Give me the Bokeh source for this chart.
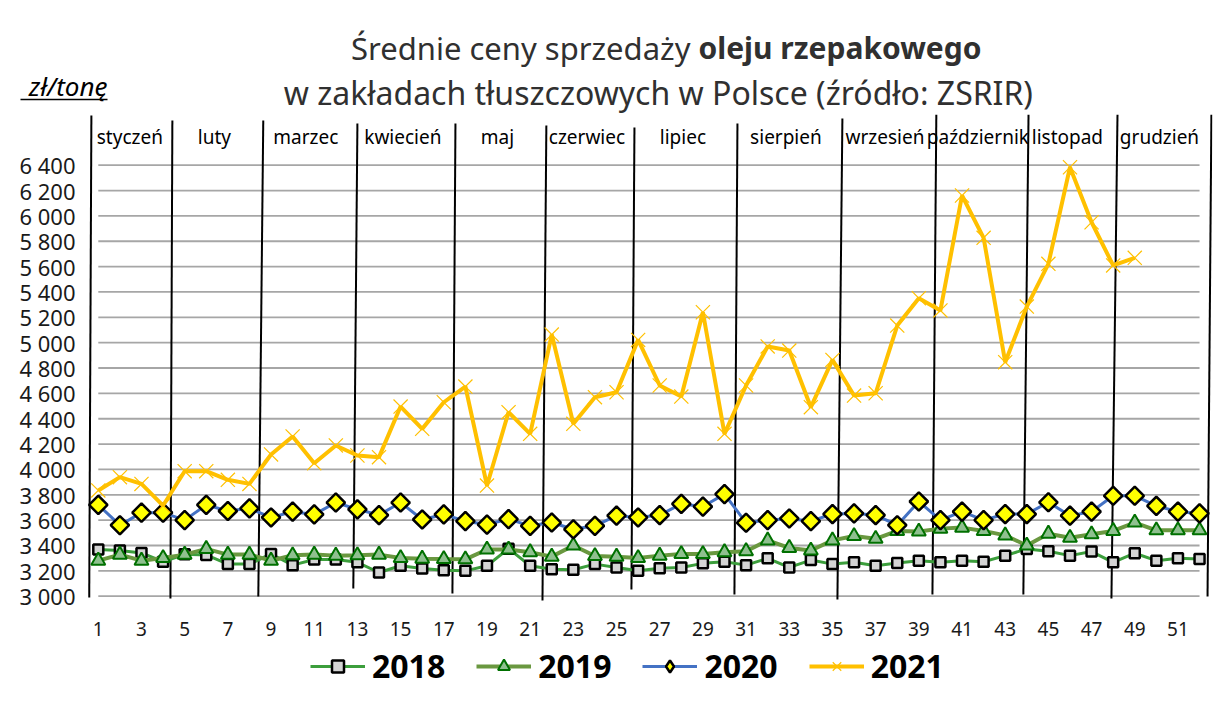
import math
from bokeh.plotting import figure
from bokeh.layouts import column
from bokeh.models import Label, Legend, LegendItem, FixedTicker, Range1d
from bokeh.core.properties import value
from bokeh.embed import file_html
from bokeh.resources import INLINE

# ---------------- data ----------------
weeks = list(range(1, 53))

v2018 = [3368, 3360, 3341, 3272, 3330, 3325, 3253, 3253, 3333, 3245,
         3290, 3290, 3267, 3187, 3240, 3219, 3205, 3200, 3240, 3375,
         3240, 3213, 3208, 3253, 3227, 3200, 3221, 3227, 3259, 3272,
         3245, 3299, 3227, 3285, 3253, 3267, 3240, 3261, 3280, 3267,
         3280, 3272, 3320, 3373, 3355, 3320, 3352, 3267, 3339, 3280,
         3299, 3293]

v2019 = [3280, 3328, 3280, 3301, 3328, 3373, 3328, 3328, 3280, 3323,
         3328, 3320, 3323, 3328, 3301, 3296, 3293, 3291, 3368, 3368,
         3347, 3312, 3400, 3317, 3312, 3301, 3320, 3333, 3333, 3347,
         3355, 3440, 3381, 3360, 3440, 3475, 3453, 3515, 3510, 3533,
         3541, 3515, 3480, 3400, 3493, 3461, 3488, 3515, 3581, 3520,
         3520, 3520]

v2020 = [3720, 3560, 3659, 3659, 3600, 3720, 3672, 3693, 3621, 3667,
         3645, 3739, 3685, 3640, 3739, 3605, 3645, 3592, 3565, 3608,
         3555, 3581, 3528, 3555, 3635, 3621, 3640, 3728, 3707, 3805,
         3579, 3600, 3613, 3592, 3648, 3653, 3640, 3560, 3747, 3600,
         3667, 3600, 3648, 3648, 3741, 3635, 3667, 3792, 3792, 3712,
         3667, 3653]

v2021 = [3834, 3939, 3886, 3715, 3986, 3986, 3918, 3886, 4118, 4260,
         4049, 4189, 4110, 4097, 4496, 4320, 4530, 4654, 3873, 4452,
         4281, 5064, 4360, 4570, 4609, 5022, 4662, 4575, 5240, 4281,
         4662, 4970, 4938, 4491, 4864, 4583, 4601, 5135, 5351, 5254,
         6161, 5827, 4846, 5285, 5622, 6384, 5950, 5609, 5669]

months = ["styczeń", "luty", "marzec", "kwiecień", "maj", "czerwiec",
          "lipiec", "sierpień", "wrzesień", "październik", "listopad", "grudzień"]

# month separator lines (week position at bottom / top, and their extent in zł/t)
month_bounds_bottom = [0.58, 4.34, 8.41, 12.81, 17.40, 21.57, 25.69, 30.46, 35.23, 39.63, 43.84, 47.92, 52.37]
month_bounds_top = [0.68, 4.43, 8.64, 13.00, 17.54, 21.75, 25.83, 30.60, 35.46, 39.81, 44.08, 48.20, 52.55]
sep_top = [6792, 6753, 6753, 6729, 6729, 6713, 6698, 6729, 6768, 6800, 6800, 6800, 6800]
sep_bottom = [2990, 2982, 2998, 3061, 3021, 2955, 3053, 3013, 2974, 3013, 3013, 2982, 2998]

y_ticks = list(range(3000, 6401, 200))
x_ticks = list(range(1, 52, 2))

series_names = ["2018", "2019", "2020", "2021"]

title_normal = "Średnie ceny sprzedaży "
title_bold = "oleju rzepakowego"
title_line2 = "w zakładach tłuszczowych w Polsce  (źródło: ZSRIR)"
unit_label = "zł/tonę"

FONT = "Noto Sans"
W = 1217
FL, FR = 87, 5          # frame borders shared by all three strips

# series styles
STY = {
    "2018": dict(line=dict(line_color="#3c9e3c", line_width=3),
                 mark=dict(marker="square", size=10, fill_color="#d4d4d4", line_color="black", line_width=2.5)),
    "2019": dict(line=dict(line_color="#6a9840", line_width=4),
                 mark=dict(marker="triangle", size=14, fill_color="#8fc08f", line_color="#007000", line_width=2)),
    "2020": dict(line=dict(line_color="#4472c4", line_width=3),
                 mark=dict(marker="square", angle=math.pi / 4, size=13, fill_color="#ffff00",
                           line_color="black", line_width=2.5)),
    "2021": dict(line=dict(line_color="#ffc000", line_width=4),
                 mark=dict(marker="x", size=20, line_color="#ffc000", line_width=1.2)),
}
# legend samples (the legend does not rotate markers, so the 2020 diamond uses the diamond marker)
LEG_MARK = dict(STY)
LEG_MARK = {k: dict(v["mark"]) for k, v in STY.items()}
LEG_MARK["2020"] = dict(marker="diamond", size=18, fill_color="#ffff00", line_color="black", line_width=2.5)

def bare(fig):
    fig.outline_line_color = None
    fig.xgrid.visible = False
    fig.ygrid.visible = False
    fig.background_fill_color = "white"
    fig.border_fill_color = "white"

# ---------------- title strip ----------------
TH = 114
t = figure(width=W, height=TH, x_range=Range1d(FL, W - FR), y_range=Range1d(TH, 0),
           output_backend="svg", toolbar_location=None, title=None,
           x_axis_location=None, min_border=0, min_border_left=FL, min_border_right=FR)
bare(t)
# the unit caption is drawn as the (only) tick label of the strip's left axis, underlined by a minor tick
UL_OUT, UL_IN = FL - 20, 20
ya = t.yaxis[0]
ya.ticker = FixedTicker(ticks=[85], minor_ticks=[99])
ya.major_label_overrides = {85: unit_label}
ya.axis_line_color = None
ya.major_tick_line_color = None
ya.major_tick_out = 0
ya.major_tick_in = 0
ya.major_label_standoff = -(UL_OUT + UL_IN)
ya.major_label_text_font = FONT
ya.major_label_text_font_size = "26px"
ya.major_label_text_font_style = "italic"
ya.major_label_text_color = "black"
ya.minor_tick_line_color = "black"
ya.minor_tick_line_width = 1.5
ya.minor_tick_out = UL_OUT
ya.minor_tick_in = UL_IN

TITLE_C = "#303030"
split_x = 698
t.add_layout(Label(x=split_x, y=47, text=title_normal, text_align="right", text_baseline="middle",
                   text_font=FONT, text_font_size="31px", text_color=TITLE_C))
t.add_layout(Label(x=split_x, y=47, text=title_bold, text_align="left", text_baseline="middle",
                   text_font=FONT, text_font_size="30px", text_font_style="bold", text_color=TITLE_C))
t.add_layout(Label(x=662, y=92, text=title_line2, text_align="center", text_baseline="middle",
                   text_font=FONT, text_font_size="32px", text_color=TITLE_C))

# ---------------- main chart ----------------
MH = 530
p = figure(width=W, height=MH, x_range=Range1d(0.5, 52.6), y_range=Range1d(2966, 6800),
           output_backend="svg", toolbar_location=None, title=None,
           min_border_left=FL, min_border_right=FR, min_border_top=0, min_border_bottom=44)
bare(p)

for ax in (p.xaxis[0], p.yaxis[0]):
    ax.axis_line_color = None
    ax.major_tick_line_color = None
    ax.minor_tick_line_color = None
    ax.major_tick_out = 0
    ax.major_tick_in = 0
    ax.minor_tick_out = 0
    ax.major_label_text_font = FONT
    ax.major_label_text_color = "#1a1a1a"

p.yaxis.ticker = FixedTicker(ticks=y_ticks)
p.yaxis.major_label_overrides = {tk: f"{tk:,}".replace(",", " ") for tk in y_ticks}
p.yaxis.major_label_standoff = 12
p.yaxis.major_label_text_font_size = "22px"

p.xaxis.ticker = FixedTicker(ticks=x_ticks)
p.xaxis.major_label_standoff = 21
p.xaxis.major_label_text_font_size = "19px"

# horizontal grid lines spanning the weeks
p.segment(x0=[min(weeks)] * len(y_ticks), x1=[max(weeks)] * len(y_ticks),
          y0=y_ticks, y1=y_ticks, line_color="#a6a6a6", line_width=1.8)

# month separators
p.segment(x0=month_bounds_bottom, y0=sep_bottom, x1=month_bounds_top, y1=sep_top,
          line_color="black", line_width=2)

mids = [(month_bounds_bottom[i] + month_bounds_bottom[i + 1]) / 2 for i in range(len(months))]
p.text(x=mids, y=[6620] * len(months), text=months, text_align="center", text_baseline="middle",
       text_font=value(FONT), text_font_size="19px", text_color="black")

series = [v2018, v2019, v2020, v2021]
for name, vals in zip(series_names, series):
    xs = weeks[:len(vals)]
    p.line(xs, vals, **STY[name]["line"])
    p.scatter(xs, vals, **STY[name]["mark"])

# ---------------- legend strip ----------------
LH = 56
lg = figure(width=W, height=LH, x_range=Range1d(-2, -1), y_range=Range1d(-2, -1),
            output_backend="svg", toolbar_location=None, title=None,
            x_axis_location=None, y_axis_location=None, min_border=0,
            min_border_left=FL, min_border_right=FR)
bare(lg)
items = []
for name, vals in zip(series_names, series):
    xs = weeks[:len(vals)]
    rl = lg.line(xs, vals, **STY[name]["line"])      # same series; outside this strip's view
    rs = lg.scatter(xs, vals, **LEG_MARK[name])
    items.append(LegendItem(label=name, renderers=[rl, rs]))
legend = Legend(items=items, orientation="horizontal", location=(223, 13),
                label_text_font=FONT, label_text_font_size="32px", label_text_font_style="bold",
                label_text_color="black",
                glyph_width=55, glyph_height=30, label_standoff=7, spacing=31,
                border_line_color=None, background_fill_alpha=0, padding=0, margin=0)
lg.add_layout(legend, "center")

layout = column(t, p, lg, spacing=0)
open("out.html", "w").write(file_html(layout, INLINE))
